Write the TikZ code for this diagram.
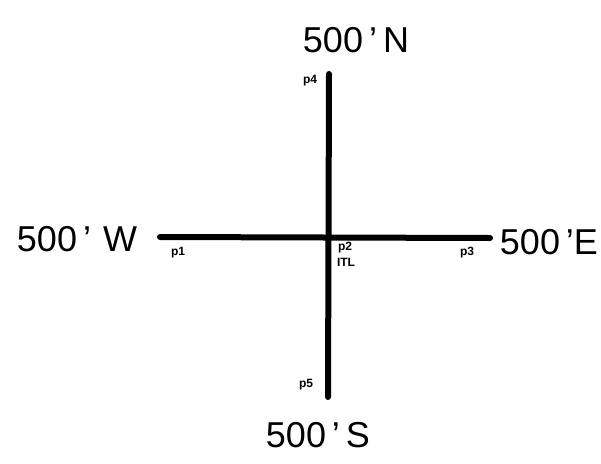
\documentclass[tikz,border=0pt]{standalone}
\usepackage{fontspec}
\setmainfont{Liberation Sans}
\begin{document}
\begin{tikzpicture}[x=1pt,y=-1pt,
  axis/.style={line width=6pt,line cap=round},
  big/.style={font=\fontsize{36}{38}\selectfont, inner sep=0pt},
  small/.style={font=\fontsize{12}{12.5}\selectfont\bfseries, inner sep=0pt, align=left}]
\useasboundingbox[fill=white] (0,0) rectangle (601,463);
\coordinate (W) at (160,237);
\coordinate (E) at (490,238);
\coordinate (N) at (329,74);
\coordinate (S) at (328,397);
\draw[axis] (W) -- (E);
\draw[axis] (N) -- (S);
\node[big] (lN) at (356,40) {500\,'\,N};
\node[big] (lW) at (77,239) {500\,'\,\,W};
\node[big] (lE) at (549,242) {500\,'E};
\node[big] (lS) at (318,435) {500\,'\,S};
\node[small] (p1) at (178,253) {p1};
\node[small] (p2) at (345,248) {p2};
\node[small] (itl) at (346,262) {ITL};
\node[small] (p3) at (467,253) {p3};
\node[small] (p4) at (310,81) {p4};
\node[small] (p5) at (306,385) {p5};
\end{tikzpicture}
\end{document}
